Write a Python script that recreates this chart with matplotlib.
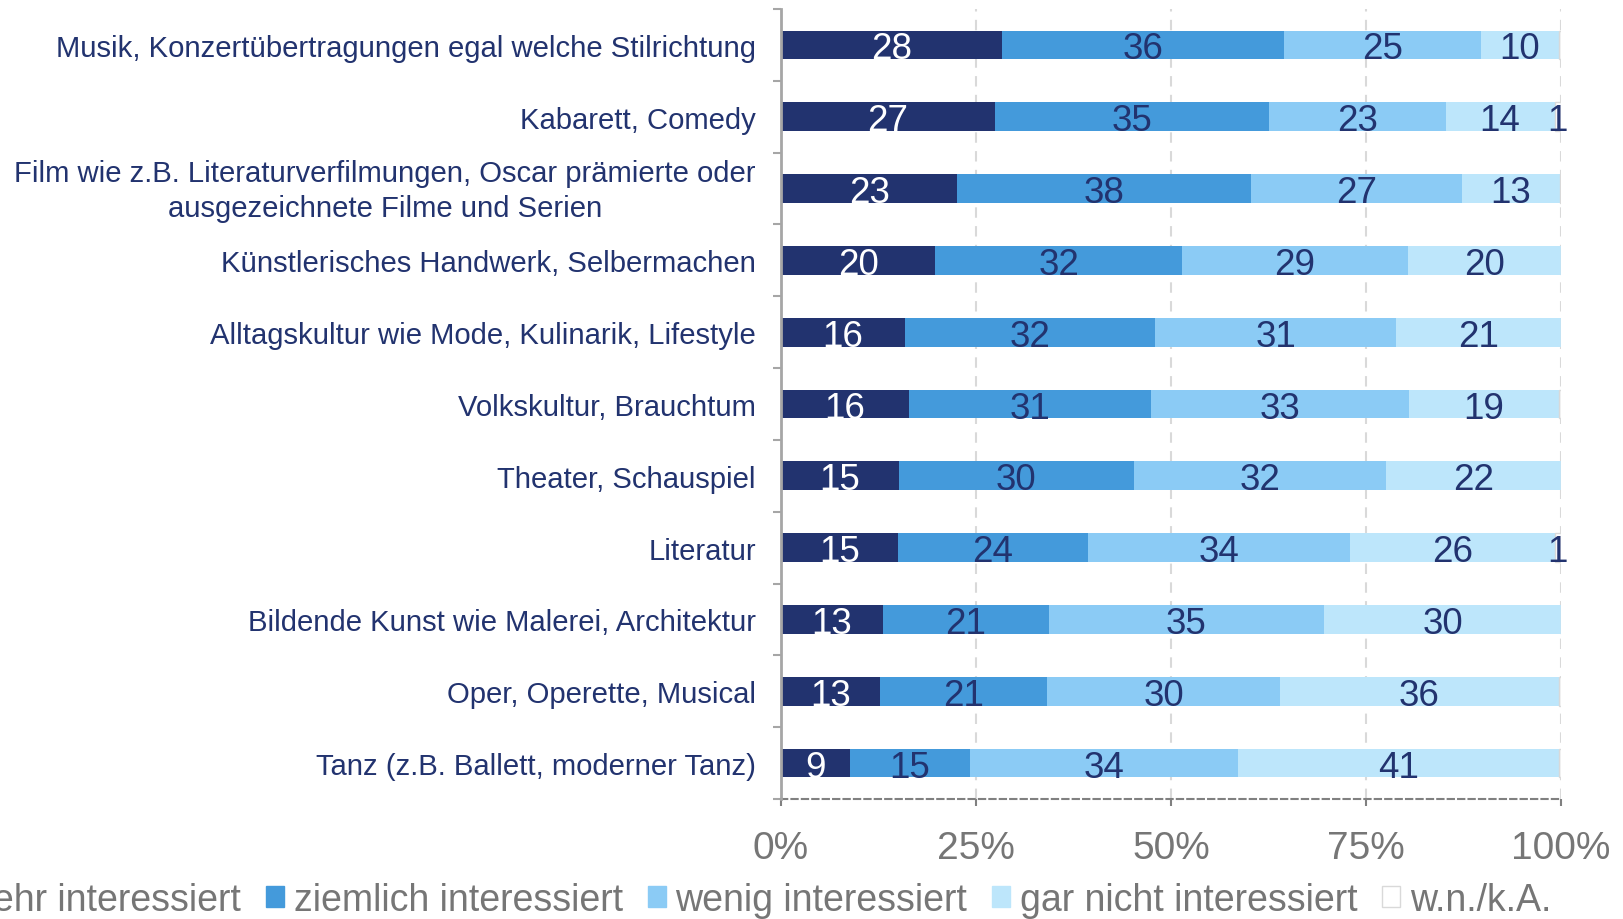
import numpy as np
import matplotlib
matplotlib.use('Agg')
import matplotlib.pyplot as plt
from matplotlib.patches import Patch

NAVY   = '#22336F'
MID    = '#449ADB'
LIGHT  = '#8BCBF5'
PALE   = '#BDE6FB'
GREY   = '#767676'
AXGREY = '#A6A6A6'
GRID   = '#D9D9D9'

categories = [
    'Musik, Konzertübertragungen egal welche Stilrichtung',
    'Kabarett, Comedy',
    'Film wie z.B. Literaturverfilmungen, Oscar prämierte oder\nausgezeichnete Filme und Serien',
    'Künstlerisches Handwerk, Selbermachen',
    'Alltagskultur wie Mode, Kulinarik, Lifestyle',
    'Volkskultur, Brauchtum',
    'Theater, Schauspiel',
    'Literatur',
    'Bildende Kunst wie Malerei, Architektur',
    'Oper, Operette, Musical',
    'Tanz (z.B. Ballett, moderner Tanz)',
]
series_names = ['sehr interessiert', 'ziemlich interessiert', 'wenig interessiert',
                'gar nicht interessiert', 'w.n./k.A.']

sehr      = [28.3, 27.4, 22.6, 19.8, 15.9, 16.4, 15.1, 15.0, 13.1, 12.7, 8.8]
ziemlich  = [36.2, 35.2, 37.6, 31.6, 32.1, 31.1, 30.1, 24.3, 21.2, 21.4, 15.4]
wenig     = [25.3, 22.6, 27.1, 29.0, 30.9, 33.0, 32.4, 33.7, 35.3, 29.9, 34.4]
gar_nicht = [9.9, 14.0, 12.6, 19.6, 21.1, 19.3, 22.4, 26.2, 30.4, 35.7, 41.1]
wnka      = [0.3, 0.8, 0.1, 0.0, 0.0, 0.2, 0.0, 0.8, 0.0, 0.3, 0.3]

xticks      = [0, 25, 50, 75, 100]
xticklabels = ['0%', '25%', '50%', '75%', '100%']

plt.rcParams.update({
    'font.family': ['Liberation Sans', 'DejaVu Sans'],
    'font.size':   21,
})

fig = plt.figure(figsize=(16.23, 9.2), dpi=100, facecolor='white')
ax = fig.add_axes([0.4812, 0.1304, 0.4806, 0.8587])

data   = [sehr, ziemlich, wenig, gar_nicht, wnka]
colors = [NAVY, MID, LIGHT, PALE, 'white']
edges  = ['none', 'none', 'none', 'none', GRID]
tcols  = ['white', NAVY, NAVY, NAVY, NAVY]

n = len(categories)
y = np.arange(n)[::-1]
left = np.zeros(n)
for vals, c, ec, tc in zip(data, colors, edges, tcols):
    vals = np.array(vals)
    ax.barh(y, vals, left=left, height=0.40, color=c, edgecolor=ec,
            linewidth=1.0, zorder=3)
    for yi, l, v in zip(y, left, vals):
        if round(v) >= 1:
            ax.text(l + v / 2, yi, f'{v:.0f}', ha='center', va='center_baseline',
                    fontsize=26.5, color=tc, zorder=4)
    left += vals

ax.set_xlim(0, 100)
ax.set_ylim(-0.5, n - 0.5)

# category labels; the two-line one is drawn by hand to keep it centred
ax.set_yticks(y)
ax.set_yticklabels(['' if '\n' in c else c for c in categories],
                   color=NAVY, fontsize=21.1)
for yi, c in zip(y, categories):
    if '\n' in c:
        ax.annotate(c, xy=(0, yi), xycoords=('axes fraction', 'data'),
                    xytext=(-18, -1.5), textcoords='offset points',
                    ha='right', va='center', ma='center', linespacing=1.3,
                    color=NAVY, fontsize=21.1)
ax.tick_params(axis='y', which='major', length=0, pad=18)
ax.set_yticks(np.arange(n + 1) - 0.5, minor=True)
ax.tick_params(axis='y', which='minor', length=6, width=1.5, color=AXGREY,
               direction='out')

ax.set_xticks(xticks)
ax.set_xticklabels(xticklabels, color=GREY, fontsize=28)
ax.tick_params(axis='x', length=5, width=1.5, color='#808080', pad=17)

ax.xaxis.grid(True, color=GRID, linestyle=(0, (5, 4)), linewidth=1.5, zorder=0)
ax.set_axisbelow(True)

for s in ['top', 'right']:
    ax.spines[s].set_visible(False)
ax.spines['left'].set_color(AXGREY)
ax.spines['left'].set_linewidth(2)
ax.spines['left'].set_zorder(5)
ax.spines['bottom'].set_color('#808080')
ax.spines['bottom'].set_linewidth(1.5)
ax.spines['bottom'].set_linestyle((0, (3, 2)))

handles = [Patch(facecolor=c, edgecolor=(GRID if c == 'white' else c), linewidth=1)
           for c in colors]
fig.legend(handles, series_names, loc='center', bbox_to_anchor=(0.4615, 0.021),
           ncol=5, frameon=False, fontsize=27, labelcolor=GREY,
           handlelength=0.47, handleheight=0.47, handletextpad=0.26,
           columnspacing=0.67, borderaxespad=0)

fig.savefig('out.png', dpi=100, facecolor='white')
plt.close(fig)
